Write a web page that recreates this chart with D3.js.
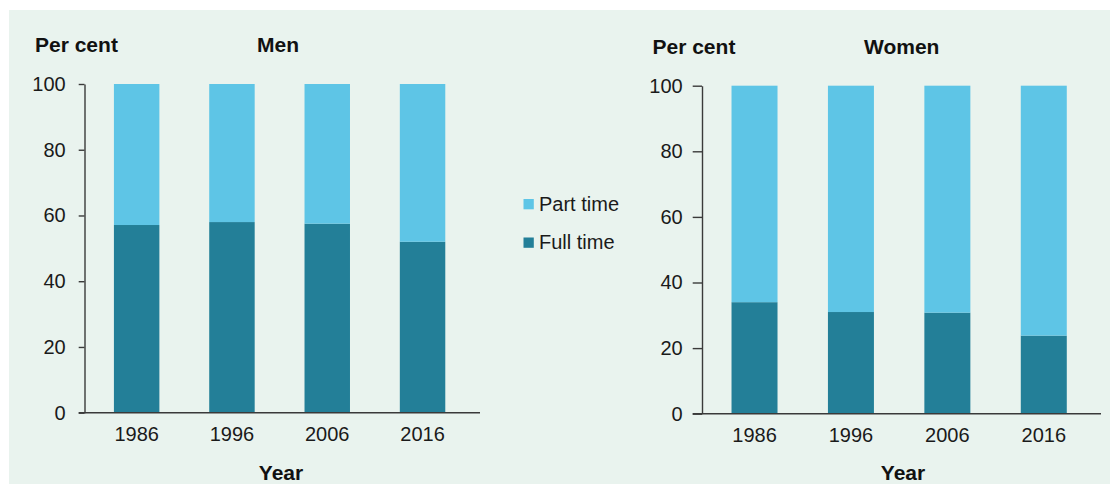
<!DOCTYPE html>
<html>
<head>
<meta charset="utf-8">
<script src="https://cdn.jsdelivr.net/npm/d3@7"></script>
<style>
  html, body { margin: 0; padding: 0; background: #ffffff; }
  svg { display: block; font-family: "Liberation Sans", Arial, sans-serif; }
</style>
</head>
<body>
<svg id="chart" width="1110" height="484"></svg>
<script>
const years = ["1986", "1996", "2006", "2016"];
const menFullTime = [57.1, 58.0, 57.5, 52.0];
const menPartTime = [42.9, 42.0, 42.5, 48.0];
const womenFullTime = [34.0, 31.0, 30.8, 23.8];
const womenPartTime = [66.0, 69.0, 69.2, 76.2];
const yTicks = [0, 20, 40, 60, 80, 100];
const seriesNames = ["Full time", "Part time"];
const seriesColors = ["#237f98", "#5ec5e6"];

const svg = d3.select("#chart");
svg.append("rect").attr("x", 9).attr("y", 10).attr("width", 1101).attr("height", 474).attr("fill", "#e9f3ee");

const panels = [
  { title: "Men", full: menFullTime, part: menPartTime,
    axisX: 84.5, yRange: [412.7, 84], band: [89, 470.2], lineX: [78.7, 480],
    tickLen: 5.8, tickPad: 13, titleX: 278, perX: 35, headY: 52, yearX: 281 },
  { title: "Women", full: womenFullTime, part: womenPartTime,
    axisX: 702, yRange: [413.7, 85.7], band: [706.3, 1092], lineX: [692.7, 1101],
    tickLen: 9.3, tickPad: 10, titleX: 901.7, perX: 652.5, headY: 54, yearX: 903 }
];

const regSize = "20px";
const boldSize = "21px";

panels.forEach(p => {
  const g = svg.append("g");
  const rows = years.map((yr, i) => ({ year: yr, "Full time": p.full[i], "Part time": p.part[i] }));
  const stack = d3.stack().keys(seriesNames)(rows);
  const x = d3.scaleBand().domain(years).range(p.band).paddingInner(0.523).paddingOuter(0.2615);
  const y = d3.scaleLinear().domain([0, 100]).range(p.yRange);
  const color = d3.scaleOrdinal().domain(seriesNames).range(seriesColors);

  g.selectAll("g.series").data(stack).join("g")
    .attr("fill", d => color(d.key))
    .selectAll("rect").data(d => d).join("rect")
    .attr("x", d => x(d.data.year))
    .attr("width", x.bandwidth())
    .attr("y", d => y(d[1]))
    .attr("height", d => y(d[0]) - y(d[1]));

  // y axis
  const yAxis = g.append("g").attr("transform", `translate(${p.axisX},0)`)
    .call(d3.axisLeft(y).tickValues(yTicks).tickSize(p.tickLen).tickPadding(p.tickPad).tickSizeOuter(0));
  yAxis.select(".domain").attr("stroke", "#3a3a3a").attr("stroke-width", 1.4);
  yAxis.selectAll(".tick line").attr("stroke", "#3a3a3a").attr("stroke-width", 1.4);
  yAxis.selectAll(".tick text").attr("font-size", regSize).attr("fill", "#1a1a1a")
    .attr("font-family", "Liberation Sans, Arial, sans-serif");

  // x axis
  const xAxis = g.append("g").attr("transform", `translate(0,${p.yRange[0]})`)
    .call(d3.axisBottom(x).tickSize(0).tickPadding(14.5));
  xAxis.select(".domain").remove();
  xAxis.selectAll(".tick text").attr("font-size", regSize).attr("fill", "#1a1a1a")
    .attr("font-family", "Liberation Sans, Arial, sans-serif");
  g.append("line").attr("x1", p.lineX[0]).attr("x2", p.lineX[1])
    .attr("y1", p.yRange[0]).attr("y2", p.yRange[0])
    .attr("stroke", "#3a3a3a").attr("stroke-width", 1.6);

  g.append("text").attr("x", p.perX).attr("y", p.headY).attr("font-size", boldSize)
    .attr("font-weight", "bold").attr("fill", "#111").text("Per cent");
  g.append("text").attr("x", p.titleX).attr("y", p.headY).attr("font-size", boldSize)
    .attr("font-weight", "bold").attr("fill", "#111").attr("text-anchor", "middle").text(p.title);
  g.append("text").attr("x", p.yearX).attr("y", 479.5).attr("font-size", boldSize)
    .attr("font-weight", "bold").attr("fill", "#111").attr("text-anchor", "middle").text("Year");
});

// legend
const legendItems = [
  { name: "Part time", color: seriesColors[1], y: 199 },
  { name: "Full time", color: seriesColors[0], y: 237.5 }
];
const lg = svg.append("g");
legendItems.forEach(it => {
  lg.append("rect").attr("x", 523.5).attr("y", it.y).attr("width", 10.3).attr("height", 10.3).attr("fill", it.color);
  lg.append("text").attr("x", 539).attr("y", it.y + 11.8).attr("font-size", regSize)
    .attr("fill", "#1a1a1a").text(it.name);
});
</script>
</body>
</html>
